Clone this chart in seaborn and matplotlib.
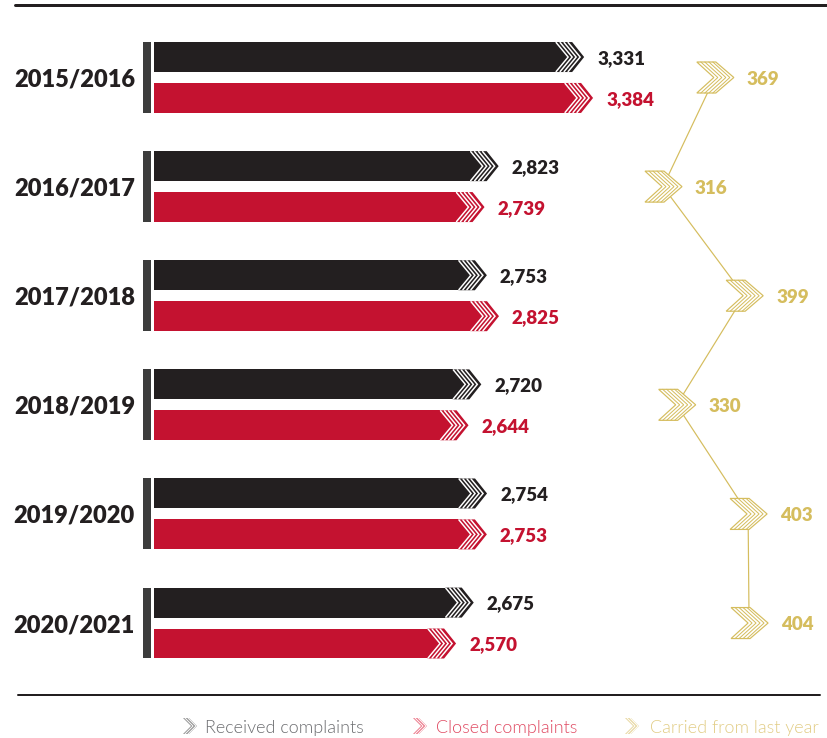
import numpy as np
import pandas as pd
import matplotlib
matplotlib.use("Agg")
import matplotlib.pyplot as plt
import seaborn as sns
from matplotlib.patches import Polygon, Rectangle
from matplotlib.lines import Line2D
from matplotlib.text import Text
from matplotlib.transforms import IdentityTransform

# ---------------- data ----------------
years = ["2015/2016", "2016/2017", "2017/2018", "2018/2019", "2019/2020", "2020/2021"]
received = [3331, 2823, 2753, 2720, 2754, 2675]
closed = [3384, 2739, 2825, 2644, 2753, 2570]
carried = [369, 316, 399, 330, 403, 404]
series_names = ["Received complaints", "Closed complaints", "Carried from last year"]

# ---------------- style ----------------
BLACK = "#231f20"
RED = "#c41230"
GOLD = "#d5bd5e"
DARKBAR = "#3c3c3c"
LEG_COLORS = ["#6d6e71", "#e04a62", "#e2cd86"]
LEG_ICON = ["#8a8a8a", "#ea6d80", "#e6d497"]
FAM = ["Lato", "DejaVu Sans"]
BOLDW = "heavy"

W, H = 828, 738
sns.set_theme(style="white")
plt.rcParams["font.family"] = FAM

fig = plt.figure(figsize=(W / 100, H / 100), dpi=100)
fig.patch.set_facecolor("white")


def fx(px):
    return px / W


def fy(py):
    return 1 - py / H


PT = 0.72  # points per pixel
ID = IdentityTransform()

ax = fig.add_axes([fx(154), fy(680), fx(828) - fx(154), fy(20) - fy(680)])

df = pd.DataFrame({
    "year": years * 2,
    "type": [series_names[0]] * len(years) + [series_names[1]] * len(years),
    "value": received + closed,
})

sns.barplot(data=df, y="year", x="value", hue="type", orient="h",
            palette=[BLACK, RED], width=0.75, gap=0.267, saturation=1,
            legend=False, ax=ax, linewidth=0)

ax.set_xlim(775, 4780)
YLIM = (5.522, -0.527)
ax.set_ylim(*YLIM)
ax.axis("off")

# ---- carried series on a twin x axis ----
ax2 = ax.twiny()
pos = np.arange(len(years))
sns.lineplot(x=carried, y=pos, sort=False, estimator=None, color=GOLD,
             linewidth=1.2 * PT, ax=ax2)
ax2.set_xlim(-204.4, 484.7)
ax.set_ylim(*YLIM)
ax2.axis("off")

fig.canvas.draw()

# ---- bar ends: hatched chevron tips + value labels ----
bars = list(ax.patches)
for p in bars:
    v = p.get_x() + p.get_width()
    y0, h = p.get_y(), p.get_height()
    T, ya = ax.transData.transform((v, y0))
    _, yb = ax.transData.transform((v, y0 + h))
    top, bot = max(ya, yb), min(ya, yb)
    mid = (top + bot) / 2
    col = p.get_facecolor()
    xe = ax.transData.inverted().transform((T - 28, mid))[0]
    p.set_width(xe - p.get_x())
    fig.add_artist(Polygon([(T - 28.5, top), (T - 12, top), (T, mid), (T - 12, bot), (T - 28.5, bot)],
                           closed=True, facecolor=col, edgecolor="none", transform=ID, zorder=3))
    for k in (0, 4, 8, 12):
        fig.add_artist(Line2D([T - 28 + k, T - 16 + k, T - 28 + k], [top - 0.5, mid, bot + 0.5],
                              color="white", lw=1.5 * PT, transform=ID, zorder=4,
                              solid_joinstyle="miter"))
    txtcol = BLACK if np.allclose(col[:3], matplotlib.colors.to_rgb(BLACK)) else RED
    fig.add_artist(Text(T + 13, mid, f"{v:,.0f}", color=txtcol, fontsize=13.5,
                        fontweight=BOLDW, ha="left", va="center_baseline",
                        transform=ID, family=FAM))

# ---- dark left marker bars and year labels ----
n = len(years)
for i in range(n):
    pb, pr = bars[i], bars[i + n]
    _, y_top = ax.transData.transform((0, pb.get_y()))
    _, y_bot = ax.transData.transform((0, pr.get_y() + pr.get_height()))
    fig.add_artist(Rectangle((143, y_bot), 8, y_top - y_bot, facecolor=DARKBAR,
                             edgecolor="none", transform=ID))
    _, yc = ax.transData.transform((0, i))
    fig.add_artist(Text(135, yc, years[i], color=BLACK, fontsize=17,
                        fontweight=BOLDW, ha="right", va="center_baseline",
                        transform=ID, family=FAM))

# ---- carried chevron markers + labels ----
for i, c in enumerate(carried):
    nx, ny = ax2.transData.transform((c, i))
    L = nx - 18
    top, bot = ny + 15.5, ny - 15.5
    fig.add_artist(Polygon([(L, top), (L + 19, top), (L + 37, ny), (L + 19, bot), (L, bot), (L + 17, ny)],
                           closed=True, facecolor="white", edgecolor=GOLD, lw=1.2 * PT,
                           transform=ID, zorder=5, joinstyle="miter"))
    for k in (4, 8, 12, 16):
        fig.add_artist(Line2D([L + k, L + 17 + k, L + k], [top, ny, bot], color=GOLD,
                              lw=1.0 * PT, transform=ID, zorder=6, solid_joinstyle="miter"))
    fig.add_artist(Text(nx + 32, ny, f"{c}", color=GOLD, fontsize=13.5,
                        fontweight=BOLDW, ha="left", va="center_baseline",
                        transform=ID, family=FAM))

# ---- rules ----
fig.add_artist(Line2D([fx(15), fx(828)], [fy(5), fy(5)], color=BLACK, lw=3 * PT,
                      transform=fig.transFigure))
fig.add_artist(Line2D([fx(18), fx(820)], [fy(695), fy(695)], color=BLACK, lw=2 * PT,
                      transform=fig.transFigure))

# ---- legend ----
leg_icon_x = [183, 413, 625]
leg_text_x = [205, 436, 650]
ly = H - 726
for name, ix, tx, tc, icol in zip(series_names, leg_icon_x, leg_text_x, LEG_COLORS, LEG_ICON):
    t, b = ly + 8, ly - 8
    fig.add_artist(Polygon([(ix, t), (ix + 6, t), (ix + 14, ly), (ix + 6, b), (ix, b), (ix + 8, ly)],
                           closed=True, facecolor=icol, edgecolor="none", transform=ID, alpha=0.9))
    for k in (2, 5):
        fig.add_artist(Line2D([ix + k, ix + 8 + k, ix + k], [t, ly, b], color="white",
                              lw=0.9 * PT, transform=ID))
    fig.add_artist(Text(tx, ly, name, color=tc, fontsize=13, fontweight=300,
                        ha="left", va="center_baseline", transform=ID, family=FAM))

fig.savefig("out.png", dpi=100, facecolor="white")
